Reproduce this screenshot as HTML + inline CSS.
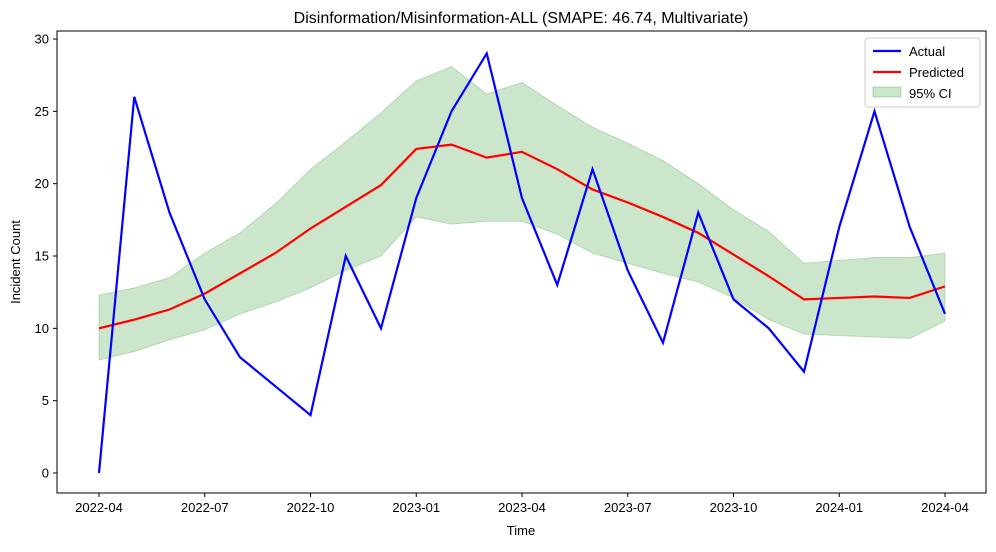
<!DOCTYPE html>
<html><head><meta charset="utf-8"><style>
body{margin:0;background:#fff;font-family:"Liberation Sans","DejaVu Sans",sans-serif}
svg text{font-family:"Liberation Sans","DejaVu Sans",sans-serif;fill:#000}
</style></head><body>
<svg id="chart" width="996" height="547" viewBox="0 0 996 547" xmlns="http://www.w3.org/2000/svg">
<rect x="0" y="0" width="996" height="547" fill="#fff"/>
<text x="521" y="23" font-size="16" text-anchor="middle">Disinformation/Misinformation-ALL (SMAPE: 46.74, Multivariate)</text>
<g id="plot"></g>
<rect x="57" y="31" width="929" height="462" fill="none" stroke="#000" stroke-width="1"/>
<text x="521" y="535" font-size="13" text-anchor="middle">Time</text>
<text x="20" y="262" font-size="13" text-anchor="middle" transform="rotate(-90 20 262)">Incident Count</text>
<g>
<rect x="865" y="38" width="115" height="69" fill="#fff" stroke="#ccc" rx="3"/>
<line x1="873" y1="51" x2="901" y2="51" stroke="#0000ff" stroke-width="2.2"/>
<text x="909" y="56" font-size="13">Actual</text>
<line x1="873" y1="72" x2="901" y2="72" stroke="#ff0000" stroke-width="2.2"/>
<text x="909" y="77" font-size="13">Predicted</text>
<rect x="873" y="87" width="28" height="10" fill="rgba(0,128,0,0.2)" stroke="rgba(0,128,0,0.25)"/>
<text x="909" y="98" font-size="13">95% CI</text>
</g>
</svg>
<script>
const months=["2022-04","2022-05","2022-06","2022-07","2022-08","2022-09","2022-10","2022-11","2022-12","2023-01","2023-02","2023-03","2023-04","2023-05","2023-06","2023-07","2023-08","2023-09","2023-10","2023-11","2023-12","2024-01","2024-02","2024-03","2024-04"];
const actual=[0,26,18,12,8,6,4,15,10,19,25,29,19,13,21,14,9,18,12,10,7,17,25,17,11];
const predicted=[10.0,10.6,11.3,12.4,13.8,15.2,16.9,18.4,19.9,22.4,22.7,21.8,22.2,21.0,19.6,18.7,17.7,16.6,15.1,13.6,12.0,12.1,12.2,12.1,12.9];
const upper=[12.3,12.8,13.5,15.2,16.6,18.6,21.0,22.9,24.9,27.1,28.1,26.2,27.0,25.4,23.9,22.8,21.6,20.0,18.2,16.7,14.5,14.7,14.9,14.9,15.2];
const lower=[7.8,8.4,9.2,9.9,11.0,11.8,12.8,14.0,15.0,17.7,17.2,17.4,17.4,16.5,15.2,14.5,13.8,13.2,12.1,10.6,9.6,9.5,9.4,9.3,10.5];
const yTicks=[0,5,10,15,20,25,30];
const xTickIdx=[0,3,6,9,12,15,18,21,24];

const NS="http://www.w3.org/2000/svg";
const g=document.getElementById('plot');
const x=i=>99+i*(945-99)/(months.length-1);
const y=v=>473-v*(473-39)/30;
function mk(t,a){const e=document.createElementNS(NS,t);for(const k in a)e.setAttribute(k,a[k]);g.appendChild(e);return e;}

let d=upper.map((v,i)=>(i?'L':'M')+x(i)+','+y(v)).join('');
for(let i=lower.length-1;i>=0;i--)d+='L'+x(i)+','+y(lower[i]);
const band=mk('path',{d:d+'Z',fill:'rgba(0,128,0,0.2)',stroke:'rgba(0,128,0,0.2)'});



const pl=mk('polyline',{points:predicted.map((v,i)=>x(i)+','+y(v)).join(' '),fill:'none',stroke:'#ff0000','stroke-width':2.2});


const al=mk('polyline',{points:actual.map((v,i)=>x(i)+','+y(v)).join(' '),fill:'none',stroke:'#0000ff','stroke-width':2.2});



yTicks.forEach(v=>{
  mk('line',{x1:53,x2:57,y1:y(v),y2:y(v),stroke:'#000'});
  const t=mk('text',{x:49,y:y(v)+4.5,'font-size':13,'text-anchor':'end'});t.textContent=v;
  
  
});
xTickIdx.forEach(i=>{
  mk('line',{x1:x(i),x2:x(i),y1:493,y2:497,stroke:'#000'});
  const t=mk('text',{x:x(i),y:512,'font-size':13,'text-anchor':'middle'});t.textContent=months[i];
  
  
});
</script>
</body></html>
